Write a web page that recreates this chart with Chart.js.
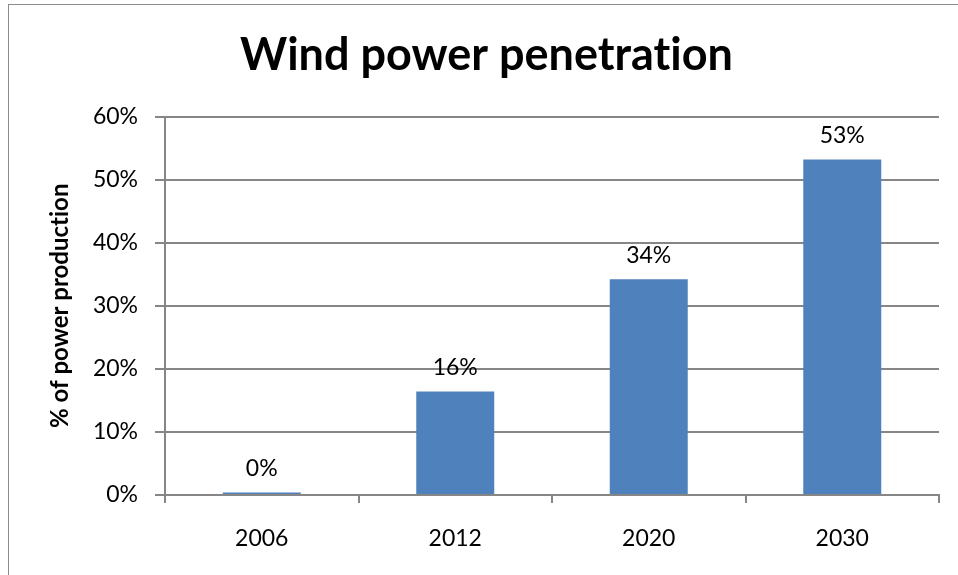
<!DOCTYPE html>
<html>
<head>
<meta charset="utf-8">
<script src="https://cdn.jsdelivr.net/npm/chart.js@4/dist/chart.umd.min.js"></script>
<style>
  html, body { margin: 0; padding: 0; background: #fff; overflow: hidden; }
  #frame { position: absolute; left: 8px; top: 4px; width: 1200px; height: 800px; border: 1px solid #8c8c8c; }
  #wrap { position: absolute; left: 0; top: 0; width: 958px; height: 575px; }
</style>
</head>
<body>
<div id="frame"></div>
<div id="wrap"><canvas id="windChart" width="958" height="575"></canvas></div>
<script>
const years = ["2006", "2012", "2020", "2030"];
const penetration = [0.4, 16.4, 34.2, 53.2];
const yTicks = [0, 10, 20, 30, 40, 50, 60];

const gridGray = "#868686";
const fontFamily = "Lato, 'Open Sans', sans-serif";

// no ligatures (Lato turns "ti" into one glyph otherwise)
const noLigatures = {
  id: "noLigatures",
  beforeDraw(chart) {
    chart.ctx.textRendering = "optimizeSpeed";
  },
};

// draw the value above each bar, like the original data labels
const barLabels = {
  id: "barLabels",
  afterDatasetsDraw(chart) {
    const ctx = chart.ctx;
    const meta = chart.getDatasetMeta(0);
    ctx.save();
    ctx.font = "23px " + fontFamily;
    ctx.fillStyle = "#000";
    ctx.textAlign = "center";
    ctx.textBaseline = "middle";
    meta.data.forEach((bar, i) => {
      ctx.fillText(Math.round(penetration[i]) + "%", bar.x, bar.y - 24);
    });
    ctx.restore();
  },
};

new Chart(document.getElementById("windChart"), {
  type: "bar",
  data: {
    labels: years,
    datasets: [
      {
        label: "Wind power penetration",
        data: penetration,
        backgroundColor: "#4F81BD",
        borderWidth: 0,
        categoryPercentage: 1,
        barPercentage: 0.403,
      },
    ],
  },
  options: {
    responsive: false,
    animation: false,
    layout: { padding: { left: 34, right: 19, top: 0, bottom: 0 } },
    plugins: {
      legend: { display: false },
      tooltip: { enabled: false },
      title: {
        display: true,
        text: "Wind power penetration",
        color: "#000",
        font: { family: fontFamily, size: 45, weight: "bold", lineHeight: 1.2 },
        padding: { top: 28, bottom: 34.5 },
      },
    },
    scales: {
      x: {
        afterFit(s) { s.height = 80; },
        grid: { offset: true, drawOnChartArea: false, tickLength: 8, color: gridGray, lineWidth: 2 },
        border: { color: gridGray, width: 2 },
        ticks: { color: "#000", font: { family: fontFamily, size: 23 }, padding: 22 },
      },
      y: {
        min: 0,
        max: 60,
        afterFit(s) { s.width = 131; },
        afterBuildTicks(s) { s.ticks = yTicks.map((v) => ({ value: v })); },
        grid: { color: gridGray, lineWidth: 2, tickLength: 10 },
        border: { color: gridGray, width: 2 },
        ticks: {
          color: "#000",
          font: { family: fontFamily, size: 23 },
          padding: 17,
          callback: (v) => v + "%",
        },
        title: {
          display: true,
          text: "% of power production",
          color: "#000",
          font: { family: fontFamily, size: 24, weight: "bold", lineHeight: 1.2 },
          padding: { top: 12, bottom: 0 },
        },
      },
    },
  },
  plugins: [noLigatures, barLabels],
});
</script>
</body>
</html>
